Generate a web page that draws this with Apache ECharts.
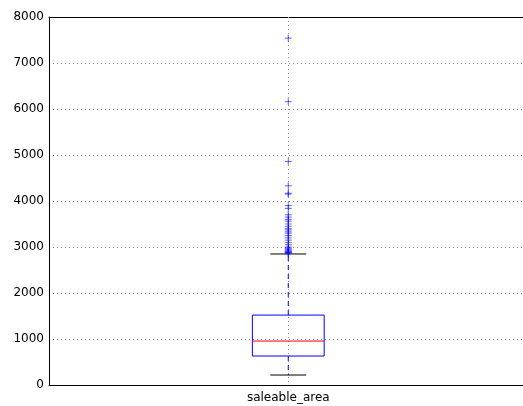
<!DOCTYPE html>
<html>
<head>
<meta charset="utf-8">
<script src="https://cdn.jsdelivr.net/npm/echarts@6/dist/echarts.min.js"></script>
<style>html,body{margin:0;padding:0;background:#fff}#c{width:523px;height:406px}</style>
</head>
<body>
<div id="c"></div>
<script>
var categories = ['saleable_area'];
var boxStats = [[217, 630, 955, 1520, 2848]]; // [low whisker, Q1, median, Q3, high whisker]
var outliers = [7540, 6160, 4860, 4330, 4170, 4150, 3900, 3840, 3700, 3650, 3600, 3560, 3500, 3450, 3400, 3370, 3330, 3300, 3250, 3200, 3150, 3100, 3050, 3000, 2980, 2960, 2940, 2920, 2900, 2890, 2880, 2870, 2860];
var yTicks = [0, 1000, 2000, 3000, 4000, 5000, 6000, 7000, 8000];

var chart = echarts.init(document.getElementById('c'), null, {renderer: 'canvas'});
var font = 'DejaVu Sans';

function renderGridX(params, api) {
  var c = api.coord([api.value(0), 0]);
  var x = Math.floor(c[0]) + 0.5;
  var yTop = api.coord([0, 8000])[1];
  return {type: 'line', shape: {x1: x, y1: yTop, x2: x, y2: c[1]}, style: {stroke: '#999', lineWidth: 1, lineDash: [1, 3]}};
}

function renderBox(params, api) {
  var idx = api.value(0);
  var lo = api.value(1), q1 = api.value(2), med = api.value(3), q3 = api.value(4), hi = api.value(5);
  var c = api.coord([idx, q1]);
  var unit = api.size([1, 0])[0];
  var halfBox = unit * 0.15;
  var halfCap = halfBox / 2;
  var x = c[0];
  var yLo = api.coord([idx, lo])[1], yQ1 = api.coord([idx, q1])[1], yMed = api.coord([idx, med])[1];
  var yQ3 = api.coord([idx, q3])[1], yHi = api.coord([idx, hi])[1];
  return {
    type: 'group',
    children: [
      {type: 'line', shape: {x1: x, y1: yQ1, x2: x, y2: yLo}, style: {stroke: '#0000ff', lineWidth: 1, lineDash: [5, 4]}},
      {type: 'line', shape: {x1: x, y1: yQ3, x2: x, y2: yHi}, style: {stroke: '#0000ff', lineWidth: 1, lineDash: [5, 4]}},
      {type: 'line', shape: {x1: x - halfCap, y1: yLo, x2: x + halfCap, y2: yLo}, style: {stroke: '#000', lineWidth: 1}},
      {type: 'line', shape: {x1: x - halfCap, y1: yHi, x2: x + halfCap, y2: yHi}, style: {stroke: '#000', lineWidth: 1}},
      {type: 'rect', shape: {x: x - halfBox, y: yQ3, width: halfBox * 2, height: yQ1 - yQ3}, style: {fill: 'none', stroke: '#0000ff', lineWidth: 1}},
      {type: 'line', shape: {x1: x - halfBox, y1: yMed, x2: x + halfBox, y2: yMed}, style: {stroke: '#ff0000', lineWidth: 1}}
    ]
  };
}

function renderOutlier(params, api) {
  var p = api.coord([api.value(0), api.value(1)]);
  var s = 3.5;
  var x = p[0];
  var y = p[1];
  return {
    type: 'group',
    children: [
      {type: 'line', shape: {x1: x - s, y1: y, x2: x + s, y2: y}, style: {stroke: '#0000ff', lineWidth: 1, opacity: 0.6}},
      {type: 'line', shape: {x1: x, y1: y - s, x2: x, y2: y + s}, style: {stroke: '#0000ff', lineWidth: 1, opacity: 0.6}}
    ]
  };
}

chart.setOption({
  animation: false,
  grid: {left: 49, right: 0, top: 17, bottom: 21, show: false},
  xAxis: [{
    type: 'value',
    min: -1, max: 0.981, interval: 1,
    position: 'bottom',
    axisLine: {show: true, onZero: false, lineStyle: {color: '#000', width: 1}},
    axisTick: {show: false},
    splitLine: {show: false},
    axisLabel: {color: '#000', fontFamily: font, fontSize: 12, margin: 7, showMaxLabel: false, showMinLabel: false,
      formatter: function (v) { return v === 0 ? categories[0] : ''; }}
  }, {
    type: 'value',
    min: -1, max: 0.981,
    position: 'top',
    axisLine: {show: true, onZero: false, lineStyle: {color: '#000', width: 1}},
    axisTick: {show: false},
    splitLine: {show: false},
    axisLabel: {show: false}
  }],
  yAxis: {
    type: 'value',
    min: 0, max: 8000, interval: 1000,
    axisLine: {show: true, onZero: false, lineStyle: {color: '#000', width: 1}},
    axisTick: {show: false},
    axisLabel: {color: '#000', fontFamily: font, fontSize: 12, margin: 5,
      formatter: function (v) { return yTicks.indexOf(v) >= 0 ? String(v) : ''; }},
    splitLine: {show: true, lineStyle: {color: '#888', type: [1, 3], width: 1}}
  },
  series: [
    {
      type: 'custom',
      renderItem: renderGridX,
      data: [[0]],
      encode: {x: 0},
      z: 1
    },
    {
      type: 'custom',
      renderItem: renderBox,
      data: boxStats.map(function (b, i) { return [i].concat(b); }),
      encode: {x: 0, y: [1, 2, 3, 4, 5]},
      z: 3
    },
    {
      type: 'custom',
      renderItem: renderOutlier,
      data: outliers.map(function (v) { return [0, v]; }),
      encode: {x: 0, y: 1},
      z: 4
    }
  ]
});
</script>
</body>
</html>
